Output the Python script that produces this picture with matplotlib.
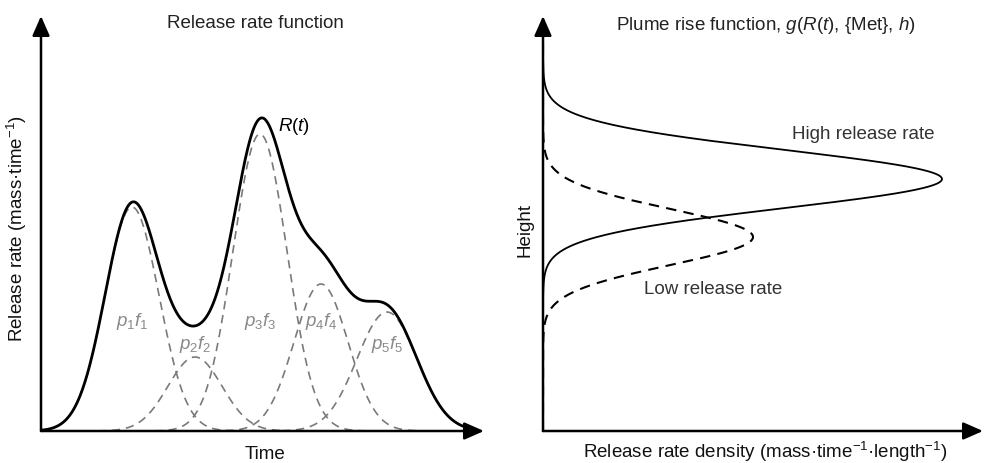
import numpy as np
import matplotlib
matplotlib.use("Agg")
import matplotlib.pyplot as plt

plt.rcParams['font.family'] = ['Liberation Sans', 'DejaVu Sans']
plt.rcParams['mathtext.fontset'] = 'custom'
plt.rcParams['mathtext.rm'] = 'Liberation Sans'
plt.rcParams['mathtext.it'] = 'Liberation Sans:italic'
plt.rcParams['mathtext.bf'] = 'Liberation Sans:bold'

# ---- data (arbitrary units) ----
# left panel: release-rate components p_i f_i (Gaussian pulses)
component_labels = [r'$p_1f_1$', r'$p_2f_2$', r'$p_3f_3$', r'$p_4f_4$', r'$p_5f_5$']
component_centers = [91, 154, 219, 280, 346]
component_heights = [224, 74, 297, 147, 119]
component_widths = [27, 27, 27, 27, 30]

# right panel: plume rise profiles (density vs height)
profile_names = ['High release rate', 'Low release rate']
profile_center_height = [252, 194]
profile_spread = [29, 28]
profile_peak_density = [399, 210]

# ---- figure ----
W, H = 984, 464
FS = 13.5
fig = plt.figure(figsize=(W / 100, H / 100), dpi=100)

def px_axes(x0, x1, y_bottom, y_top):
    return fig.add_axes([x0 / W, 1 - y_bottom / H, (x1 - x0) / W, (y_bottom - y_top) / H])

axL = px_axes(41, 484, 432, 17)
axR = px_axes(543, 983, 432, 17)

for ax in (axL, axR):
    ax.set_xlim(0, 443 if ax is axL else 440)
    ax.set_ylim(0, 415)
    for s in ax.spines.values():
        s.set_visible(False)
    ax.set_xticks([])
    ax.set_yticks([])
    ax.patch.set_alpha(0)
    arrow = dict(arrowstyle='-|>,head_length=0.75,head_width=0.33', lw=1.8, color='black',
                 shrinkA=0, shrinkB=0, mutation_scale=16)
    ax.annotate('', xy=(1, 0), xytext=(0, 0), xycoords='axes fraction',
                textcoords='axes fraction', arrowprops=arrow, annotation_clip=False)
    ax.annotate('', xy=(0, 1), xytext=(0, 0), xycoords='axes fraction',
                textcoords='axes fraction', arrowprops=arrow, annotation_clip=False)

# left panel curves
t = np.linspace(0, 425, 900)
comps = [h * np.exp(-(t - c) ** 2 / (2 * w ** 2))
         for c, h, w in zip(component_centers, component_heights, component_widths)]
R = np.sum(comps, axis=0)
for comp in comps:
    axL.plot(t, comp, color='#7a7a7a', lw=1.2, dashes=(5, 3.5), zorder=2)
axL.plot(t, R, color='black', lw=2.0, zorder=3, solid_capstyle='round')

label_y = [110, 87, 110, 110, 87]
for lab, c, ly in zip(component_labels, component_centers, label_y):
    axL.text(c, ly, lab, color='#8a8a8a', fontsize=FS, ha='center', va='center')
axL.text(237, 305, r'$R$($t$)', color='black', fontsize=FS, ha='left', va='center')

# right panel curves
hgt = np.linspace(0, 412, 900)
styles = [dict(color='black', lw=1.3), dict(color='black', lw=1.5, dashes=(5, 3.5))]
for mu, sd, pk, st in zip(profile_center_height, profile_spread, profile_peak_density, styles):
    dens = pk * np.exp(-(hgt - mu) ** 2 / (2 * sd ** 2))
    axR.plot(dens, hgt, **st)
axR.text(320, 297, profile_names[0], color='#333333', fontsize=FS, ha='center', va='center')
axR.text(170, 142, profile_names[1], color='#333333', fontsize=FS, ha='center', va='center')

# titles & axis labels
fig.text(255 / W, 1 - 24 / H, 'Release rate function', fontsize=FS, color='#222222',
         ha='center', va='center')
fig.text(766 / W, 1 - 25 / H, r'Plume rise function, $g$($R$($t$), {Met}, $h$)', fontsize=FS,
         color='#222222', ha='center', va='center')
fig.text(265 / W, 1 - 459 / H, 'Time', fontsize=FS, color='#111111', ha='center', va='baseline')
fig.text(765 / W, 1 - 458 / H, r'Release rate density (mass·time$^{-1}$·length$^{-1}$)',
         fontsize=FS, color='#111111', ha='center', va='baseline')
fig.text(17 / W, 1 - 229 / H, r'Release rate (mass·time$^{-1}$)', fontsize=FS, color='#111111',
         ha='center', va='center', rotation=90)
fig.text(525 / W, 1 - 230 / H, 'Height', fontsize=FS, color='#111111', ha='center',
         va='center', rotation=90)

fig.savefig('out.png', dpi=100)
